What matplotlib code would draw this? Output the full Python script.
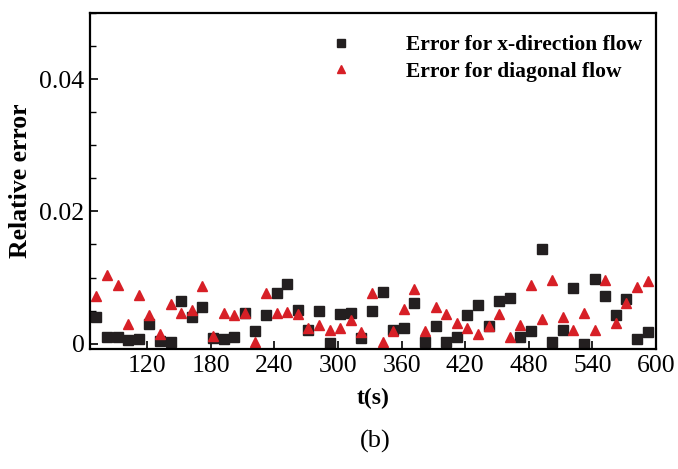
import matplotlib
matplotlib.use('Agg')
import matplotlib.pyplot as plt
from matplotlib.ticker import MultipleLocator, FuncFormatter

# DATA
t = [72, 82, 92, 102, 112, 122, 132, 142, 152, 162,
     172, 182, 192, 202, 212, 222, 232, 242, 252, 262,
     272, 282, 292, 302, 312, 322, 332, 342, 352, 362,
     372, 382, 392, 402, 412, 422, 432, 442, 452, 462,
     472, 482, 492, 502, 512, 522, 532, 542, 552, 562,
     572, 582, 592]

err_x = [0.0040, 0.0010, 0.0010, 0.00055, 0.0007, 0.0030, 0.00035, 0.00025, 0.0064, 0.0040,
         0.0055, 0.0009, 0.0007, 0.0010, 0.0046, 0.0019, 0.0043, 0.0076, 0.0090, 0.0051,
         0.0021, 0.0049, 0.0001, 0.0045, 0.0046, 0.0009, 0.0049, 0.0078, 0.0020, 0.0024,
         0.0061, 0.00025, 0.0027, 0.00025, 0.0010, 0.0043, 0.0058, 0.0027, 0.0064, 0.0069,
         0.0010, 0.0019, 0.0143, 0.00025, 0.0021, 0.0084, 0.0000, 0.0098, 0.0072, 0.0043,
         0.0067, 0.0007, 0.0018]

err_diag = [0.0072, 0.0104, 0.0089, 0.0030, 0.0074, 0.0044, 0.0015, 0.0060, 0.0047, 0.0051,
            0.0087, 0.0012, 0.0047, 0.0043, 0.0046, 0.0002, 0.0076, 0.0046, 0.0048, 0.0045,
            0.0024, 0.0028, 0.0021, 0.0023, 0.0036, 0.0017, 0.0076, 0.0002, 0.0019, 0.0053,
            0.0083, 0.0019, 0.0055, 0.0045, 0.0032, 0.0024, 0.0015, 0.0027, 0.0045, 0.0010,
            0.0029, 0.0089, 0.0038, 0.0096, 0.0041, 0.0021, 0.0047, 0.0021, 0.0097, 0.0031,
            0.0062, 0.0085, 0.0095]

x_ticks = [120, 180, 240, 300, 360, 420, 480, 540, 600]

# STYLE
plt.rcParams['font.family'] = ['Liberation Serif', 'DejaVu Serif']

fig = plt.figure(figsize=(6.78, 4.69), dpi=100)
ax = fig.add_axes([0.1327, 0.2559, 0.8349, 0.7164])

ax.plot(t, err_x, linestyle='none', marker='s', markersize=6.5,
        color='#231f20', label='Error for x-direction flow')
ax.plot(t, err_diag, linestyle='none', marker='^', markersize=7.5,
        color='#d71f26', label='Error for diagonal flow')

ax.set_xlim(66, 600)
ax.set_ylim(-0.0008, 0.05)
ax.set_xticks(x_ticks)
ax.yaxis.set_major_locator(MultipleLocator(0.02))
ax.yaxis.set_minor_locator(MultipleLocator(0.005))
ax.yaxis.set_major_formatter(FuncFormatter(lambda v, p: '0' if abs(v) < 1e-9 else f'{v:.2f}'))

ax.tick_params(axis='both', which='major', direction='in', length=6, width=1.2,
               labelsize=18.5, pad=4)
ax.tick_params(axis='y', which='minor', direction='in', length=4, width=1.0)
for s in ax.spines.values():
    s.set_linewidth(1.6)

ax.set_xlabel('t(s)', fontsize=17, fontweight='bold')
ax.set_ylabel('Relative error', fontsize=18.5, fontweight='bold')
ax.xaxis.set_label_coords(0.5, -0.115)
ax.yaxis.set_label_coords(-0.1025, 0.5)

ax.legend(loc='upper right', bbox_to_anchor=(1.0, 0.975), frameon=False,
          prop={'size': 15.5, 'weight': 'bold'}, handletextpad=2.0,
          markerscale=0.8, labelspacing=0.3, borderaxespad=0.25)

fig.text(0.553, 0.058, '(b)', ha='center', va='center', fontsize=19)

fig.savefig('out.png', dpi=100)
